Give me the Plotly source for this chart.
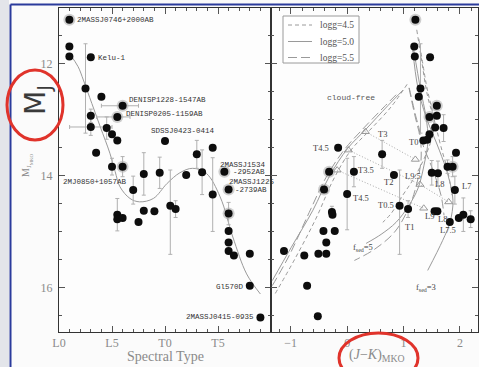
import plotly.graph_objects as go

# ---------------- data : left panel (spectral type vs M_J) ----------------
left_spt = [0.98, 0.98, 0.98, 3.0, 2.5, 4.0, 6.0, 5.5, 3.0, 3.0, 4.5, 5.0, 5.5, 3.5, 10.0, 14.5,
            13.0, 5.0, 6.0, 8.0, 9.5, 12.0, 13.5, 15.6, 7.0, 16.0, 14.5, 5.5, 5.5, 6.0, 7.5, 8.0,
            9.0, 10.5, 11.0, 16.0, 16.0, 16.0, 16.0, 16.5, 18.0, 18.0, 19.0]
left_mj = [11.21, 11.69, 11.87, 11.88, 12.44, 12.59, 12.75, 12.95, 12.93, 13.13, 13.15, 13.26, 13.37,
           13.59, 13.38, 13.50, 13.62, 13.84, 13.84, 13.97, 13.95, 13.99, 13.94, 13.93, 14.26, 14.25,
           14.34, 14.70, 14.78, 14.76, 14.83, 14.63, 14.64, 14.54, 14.60, 14.68, 14.99, 15.20, 15.35,
           15.43, 15.40, 15.97, 16.54]
left_err_lo = [0, 0, 0, 0, 0.8, 0, 0, 0, 0.12, 0.15, 0.2, 0, 0, 0, 0, 0, 0.25, 0.15, 0.18, 0.38, 0.28,
               0, 0.4, 0, 0.25, 0, 0.66, 0.29, 0, 0, 0, 0, 0, 0.64, 0.15, 0.2, 0, 0, 0, 0, 0, 0, 0]
left_err_hi = [0, 0, 0, 0, 0.8, 0, 0, 0, 0.12, 0.15, 0.2, 0, 0, 0, 0, 0, 0.25, 0.15, 0.18, 0.38, 0.28,
               0, 0.4, 0, 0.25, 0, 0.66, 0.29, 0, 0, 0, 0, 0, 0.87, 0.15, 0.2, 0, 0, 0, 0, 0, 0, 0]
left_xerr_lo = [0, 0, 0, 0, 0, 0, 2.0, 1.95, 0, 2.0] + [0] * 33
left_xerr_hi = [0, 0, 0, 0, 0, 0, 1.5, 1.2, 0, 2.0] + [0] * 33
left_halo_idx = [0, 6, 7, 18, 23, 25, 35]

fit_spt = [1.0, 1.8, 2.3, 3.1, 3.9, 4.8, 5.3, 5.75, 6.7, 7.6, 8.9, 10.2, 11.4, 12.6, 13.9, 15.2,
           16.4, 17.7, 19.0]
fit_mj = [11.82, 12.05, 12.29, 12.71, 13.13, 13.60, 13.93, 14.20, 14.41, 14.47, 14.41, 14.14, 13.95,
          13.87, 13.96, 14.38, 15.10, 15.76, 16.12]

left_labels = ["2MASSJ0746+2000AB", "Kelu-1", "DENISP1228-1547AB", "DENISP0205-1159AB",
               "SDSSJ0423-0414", "2MASSJ1534", "-2952AB", "2MASSJ1225", "-2739AB",
               "2MJ0850+1057AB", "Gl570D", "2MASSJ0415-0935"]
left_label_x = [1.6, 3.55, 6.5, 6.2, 8.6, 15.1, 16.3, 15.9, 16.5, 0.3, 17.55, 18.5]
left_label_y = [11.21, 11.89, 12.64, 12.89, 13.20, 13.81, 13.93, 14.11, 14.25, 14.11, 16.0, 16.54]
left_label_anchor = ["left"] * 10 + ["right", "right"]

spt_tickvals = [0, 5, 10, 15]
spt_ticktext = ["L0", "L5", "T0", "T5"]
mj_tickvals = [12, 14, 16]

# ---------------- data : right panel ((J-K) vs M_J) ----------------
right_jk = [1.21, 1.19, 1.20, 1.47, 1.30, 1.27, 1.59, 1.46, 1.59, 1.56, 1.71, 1.46, 1.35, 1.42, 1.93,
            -0.16, 0.62, -0.32, 0.12, 0.83, 1.50, 1.61, 1.78, 1.87, -0.41, 0.00, -0.27, -0.26, -0.42,
            -0.22, -0.37, -0.51, -0.37, -0.76, -1.12, -0.71, -0.52, 0.93, 1.08, 1.91, 1.55, 1.60,
            1.82, 1.98, 2.06, 2.19]
right_mj = [11.21, 11.69, 11.87, 11.88, 12.44, 12.59, 12.75, 12.95, 12.93, 13.14, 13.15, 13.26, 13.37,
            13.36, 13.59, 13.50, 13.62, 13.93, 13.93, 13.99, 13.95, 13.96, 13.84, 13.84, 14.25, 14.33,
            14.65, 14.70, 14.99, 14.99, 15.20, 15.40, 15.40, 15.43, 15.35, 15.97, 16.52, 14.54, 14.60,
            14.26, 14.64, 14.64, 14.83, 14.76, 14.70, 14.78]
right_err_lo = [0, 0, 0, 0, 0.8, 0, 0, 0, 0, 0, 0.24, 0, 0, 0, 0, 0, 0.25, 0, 0.27, 0, 0.22, 0.22,
                0.12, 0.18, 0, 0.64, 0.1, 0, 0, 0, 0, 0, 0, 0, 0, 0, 0, 0.64, 0.15, 0.25, 0, 0, 0, 0,
                0.3, 0.15]
right_err_hi = [0, 0, 0, 0, 0.8, 0, 0, 0, 0, 0, 0.24, 0, 0, 0, 0, 0, 0.25, 0, 0.27, 0, 0.22, 0.22,
                0.12, 0.18, 0, 0.64, 0.1, 0, 0, 0, 0, 0, 0, 0, 0, 0, 0, 0.87, 0.15, 0.25, 0, 0, 0, 0,
                0.3, 0.15]
right_halo_idx = [0, 6, 7, 17, 23, 24]

# model tracks
cf45_jk = [-1.274, -0.92, -0.549, -0.248, 0.071, 0.389, 0.779, 1.074]
cf45_mj = [16.11, 15.48, 14.76, 14.08, 13.54, 13.20, 12.77, 12.35]
cf50_jk = [-1.327, -0.991, -0.607, -0.313, 0.012, 0.324, 0.72, 0.99]
cf50_mj = [15.88, 15.285, 14.62, 14.01, 13.51, 13.18, 12.75, 12.47]
cf55_jk = [-1.327, -1.027, -0.673, -0.372, -0.053, 0.265, 0.655, 0.92]
cf55_mj = [15.97, 15.43, 14.66, 14.03, 13.54, 13.18, 12.77, 12.50]

f3_45_jk = [1.234, 1.31, 1.428, 1.545, 1.664, 1.788, 1.858]
f3_45_mj = [11.39, 11.87, 12.587, 13.005, 13.485, 13.939, 14.352]
f3_50_jk = [1.163, 1.251, 1.398, 1.634, 1.788, 1.876, 1.823, 1.694, 1.428]
f3_50_mj = [11.749, 12.408, 12.946, 13.544, 13.993, 14.442, 14.837, 15.16, 15.698]
f3_55_jk = [1.097, 1.221, 1.345, 1.522, 1.664, 1.717]
f3_55_mj = [12.431, 13.005, 13.454, 13.903, 14.352, 14.711]

f5_45_jk = [1.27, 1.40, 1.54, 1.474, 1.31, 1.163, 0.986, 0.779, 0.632]
f5_45_mj = [11.55, 12.35, 13.095, 13.424, 13.813, 14.083, 14.352, 14.68, 14.837]
f5_50_jk = [1.18, 1.30, 1.398, 1.434, 1.363, 1.257, 1.097, 0.867, 0.602, 0.336]
f5_50_mj = [11.75, 12.45, 12.952, 13.364, 13.813, 14.226, 14.531, 14.837, 15.052, 15.214]
f5_55_jk = [1.10, 1.22, 1.28, 1.31, 1.204, 1.074, 0.837, 0.483, 0.129]
f5_55_mj = [12.43, 12.95, 13.185, 13.724, 14.262, 14.621, 15.016, 15.321, 15.519]

tri_jk = [0.324, 0.023, -0.177, 1.209, 1.292, 1.358, 1.80]
tri_mj = [13.215, 13.544, 13.903, 13.711, 14.16, 14.585, 14.472]

dot1_jk = [0.324, 1.209]
dot1_mj = [13.215, 13.711]
dot2_jk = [0.023, 1.292, 1.80]
dot2_mj = [13.544, 14.16, 14.472]
dot3_jk = [-0.177, 1.358]
dot3_mj = [13.903, 14.585]

right_labels = ["T4.5", "T3", "T0", "T3.5", "T4.5", "T2", "L9.5", "L8", "L7", "T0.5", "T1", "L9",
                "L8", "L7.5", "f<sub>sed</sub>=5", "f<sub>sed</sub>=3"]
right_label_x = [-0.46, 0.63, 1.17, 0.34, 0.25, 0.73, 1.16, 1.63, 2.11, 0.69, 1.10, 1.46, 1.69,
                 1.78, 0.28, 1.40]
right_label_y = [13.50, 13.26, 13.40, 13.90, 14.41, 14.11, 14.01, 14.15, 14.19, 14.53, 14.92, 14.73,
                 14.77, 14.98, 15.29, 16.00]

legend_names = ["logg=4.5", "logg=5.0", "logg=5.5"]
jk_tickvals = [-1, 0, 1, 2]

# ---------------- layout helpers ----------------
W, H = 479, 367
ML, MR, MT, MB = 59, 1, 8, 35
PW = W - ML - MR
PH = H - MT - MB


def px(x):
    return (x - ML) / PW


def py(y):
    return (MT + PH - y) / PH


SPLIT = px(271)
SERIF = "Liberation Serif, serif"
MONO = "Liberation Mono, monospace"
SANS = "DejaVu Sans, sans-serif"
GRAY_LINE = "#9a9a9a"
ERR = "#b0b0b0"
SHORT = "4px,3px"
LONG = "9px,4px"
DASHES = [SHORT, "solid", LONG]

fig = go.Figure()

# left: fit curve
fig.add_trace(go.Scatter(x=fit_spt, y=fit_mj, mode="lines", line=dict(color=GRAY_LINE, width=1, shape="spline"),
                         showlegend=False, xaxis="x", yaxis="y"))
# left halos
fig.add_trace(go.Scatter(x=[left_spt[i] for i in left_halo_idx], y=[left_mj[i] for i in left_halo_idx],
                         mode="markers", marker=dict(size=12, color="rgba(150,150,150,0.45)"),
                         showlegend=False, xaxis="x", yaxis="y"))
# left points
fig.add_trace(go.Scatter(x=left_spt, y=left_mj, mode="markers",
                         marker=dict(size=8, color="#0d0d0d"),
                         error_y=dict(type="data", symmetric=False, array=left_err_hi, arrayminus=left_err_lo,
                                      color=ERR, thickness=1, width=2),
                         error_x=dict(type="data", symmetric=False, array=left_xerr_hi, arrayminus=left_xerr_lo,
                                      color=ERR, thickness=1, width=2),
                         showlegend=False, xaxis="x", yaxis="y"))

# right: cloud-free tracks
for jk, mj, dash, name in [(cf45_jk, cf45_mj, SHORT, legend_names[0]), (cf50_jk, cf50_mj, "solid", legend_names[1]),
                           (cf55_jk, cf55_mj, LONG, legend_names[2])]:
    fig.add_trace(go.Scatter(x=jk, y=mj, mode="lines", name=name,
                             line=dict(color=GRAY_LINE, width=1, dash=dash, shape="spline"),
                             showlegend=False, xaxis="x2", yaxis="y2"))
# cloudy tracks
for jk, mj, dash in [(f3_45_jk, f3_45_mj, SHORT), (f3_50_jk, f3_50_mj, "solid"), (f3_55_jk, f3_55_mj, LONG),
                     (f5_45_jk, f5_45_mj, SHORT), (f5_50_jk, f5_50_mj, "solid"), (f5_55_jk, f5_55_mj, LONG)]:
    fig.add_trace(go.Scatter(x=jk, y=mj, mode="lines",
                             line=dict(color=GRAY_LINE, width=1, dash=dash, shape="spline"),
                             showlegend=False, xaxis="x2", yaxis="y2"))
# dotted iso-Teff lines
for jk, mj in [(dot1_jk, dot1_mj), (dot2_jk, dot2_mj), (dot3_jk, dot3_mj)]:
    fig.add_trace(go.Scatter(x=jk, y=mj, mode="lines", line=dict(color="#a8a8a8", width=1, dash="1px,2px"),
                             showlegend=False, xaxis="x2", yaxis="y2"))
# triangles
fig.add_trace(go.Scatter(x=tri_jk, y=tri_mj, mode="markers",
                         marker=dict(symbol="triangle-up-open", size=7, color="#999999", line=dict(width=1)),
                         showlegend=False, xaxis="x2", yaxis="y2"))
# right halos
fig.add_trace(go.Scatter(x=[right_jk[i] for i in right_halo_idx], y=[right_mj[i] for i in right_halo_idx],
                         mode="markers", marker=dict(size=12, color="rgba(150,150,150,0.45)"),
                         showlegend=False, xaxis="x2", yaxis="y2"))
# right points
fig.add_trace(go.Scatter(x=right_jk, y=right_mj, mode="markers",
                         marker=dict(size=8, color="#0d0d0d"),
                         error_y=dict(type="data", symmetric=False, array=right_err_hi, arrayminus=right_err_lo,
                                      color=ERR, thickness=1, width=2),
                         showlegend=False, xaxis="x2", yaxis="y2"))

annotations = []
for t, x, y, a in zip(left_labels, left_label_x, left_label_y, left_label_anchor):
    annotations.append(dict(text=t, x=x, y=y, xref="x", yref="y", xanchor=a, yanchor="middle",
                            showarrow=False, borderpad=0, font=dict(family=MONO, size=7.5, color="#333")))
for t, x, y in zip(right_labels, right_label_x, right_label_y):
    annotations.append(dict(text=t, x=x, y=y, xref="x2", yref="y2", xanchor="center", yanchor="middle",
                            showarrow=False, borderpad=0, font=dict(family=SERIF, size=8.5, color="#444")))
annotations.append(dict(text="cloud-free", x=0.07, y=12.6, xref="x2", yref="y2", showarrow=False,
                        xanchor="center", yanchor="middle", font=dict(family=MONO, size=8, color="#555")))
# axis titles
annotations.append(dict(text="Spectral Type", x=px(165), y=py(357), xref="paper", yref="paper",
                        xanchor="center", yanchor="middle", borderpad=0,
                        showarrow=False, font=dict(family=SERIF, size=14, color="#8a8a8a")))
annotations.append(dict(text="(<i>J</i>\u2212<i>K</i>)<sub>MKO</sub>", x=px(377), y=py(356), xref="paper",
                        yref="paper", xanchor="center", yanchor="middle", borderpad=0,
                        showarrow=False, font=dict(family=SERIF, size=14, color="#8a8a8a")))
annotations.append(dict(text="M<sub>J<sub>MKO</sub></sub>", x=px(27), y=py(165), xref="paper", yref="paper",
                        xanchor="center", yanchor="middle",
                        textangle=-90, showarrow=False, font=dict(family=SERIF, size=10, color="#8a8a8a")))
annotations.append(dict(text="M<sub>J</sub>", x=px(37), y=py(100), xref="paper", yref="paper",
                        xanchor="center", yanchor="middle",
                        textangle=-90, showarrow=False, font=dict(family=SANS, size=28, color="#3a3a3a")))
# hand-drawn legend texts
legend_rows = [25, 41.5, 57.5]
for name, ry in zip(legend_names, legend_rows):
    annotations.append(dict(text=name, x=px(318), y=py(ry), xref="paper", yref="paper", xanchor="left",
                            yanchor="middle", showarrow=False,
                            font=dict(family=SERIF, size=9.5, color="#555")))

shapes = [
    dict(type="rect", xref="paper", yref="paper", x0=px(0), x1=px(9), y0=py(H), y1=py(0),
         fillcolor="#e3e5ea", line=dict(width=0), layer="below"),
    dict(type="line", xref="paper", yref="paper", x0=px(10.5), x1=px(10.5), y0=py(H), y1=py(4.5),
         line=dict(color="#2b3b9c", width=2)),
    dict(type="line", xref="paper", yref="paper", x0=px(10.5), x1=px(W), y0=py(4.5), y1=py(4.5),
         line=dict(color="#2b3b9c", width=2)),
    dict(type="circle", xref="paper", yref="paper", x0=px(7), x1=px(63), y0=py(140), y1=py(70),
         line=dict(color="#e0332b", width=3)),
    dict(type="circle", xref="paper", yref="paper", x0=px(339), x1=px(418), y0=py(383), y1=py(333),
         line=dict(color="#e0332b", width=3)),
    # legend box
    dict(type="rect", xref="paper", yref="paper", x0=px(283), x1=px(359), y0=py(63), y1=py(16),
         fillcolor="rgba(255,255,255,0.9)", line=dict(color="#9a9a9a", width=1)),
]
for dash, ry in zip(DASHES, legend_rows):
    shapes.append(dict(type="line", xref="paper", yref="paper", x0=px(288), x1=px(312), y0=py(ry), y1=py(ry),
                       line=dict(color=GRAY_LINE, width=1, dash=dash)))

axis_common = dict(showgrid=False, zeroline=False, showline=True, linecolor="#333", linewidth=1,
                   ticks="inside", ticklen=6, tickcolor="#555", mirror="ticks",
                   tickfont=dict(family=SERIF, size=12, color="#8a8a8a"))

fig.update_layout(
    width=W, height=H, margin=dict(l=ML, r=MR, t=MT, b=MB),
    paper_bgcolor="#fbfbfb", plot_bgcolor="#fdfdfd", showlegend=False,
    xaxis=dict(domain=[0, SPLIT], range=[0, 20], tickvals=spt_tickvals, ticktext=spt_ticktext,
               minor=dict(ticks="inside", ticklen=3, dtick=1, tick0=0, tickcolor="#555"), anchor="y",
               **axis_common),
    yaxis=dict(range=[16.8, 11.0], tickvals=mj_tickvals, anchor="x", ticklabelstandoff=3,
               minor=dict(ticks="inside", ticklen=3, dtick=0.5, tick0=11, tickcolor="#555"), **axis_common),
    xaxis2=dict(domain=[SPLIT, 1], range=[-1.35, 2.32], tickvals=jk_tickvals, anchor="y2",
                minor=dict(ticks="inside", ticklen=3, dtick=0.2, tick0=0, tickcolor="#555"), **axis_common),
    yaxis2=dict(range=[16.8, 11.0], tickvals=mj_tickvals, anchor="x2", showticklabels=False,
                minor=dict(ticks="inside", ticklen=3, dtick=0.5, tick0=11, tickcolor="#555"), **axis_common),
    annotations=annotations, shapes=shapes,
)

fig.write_html("out.html")
